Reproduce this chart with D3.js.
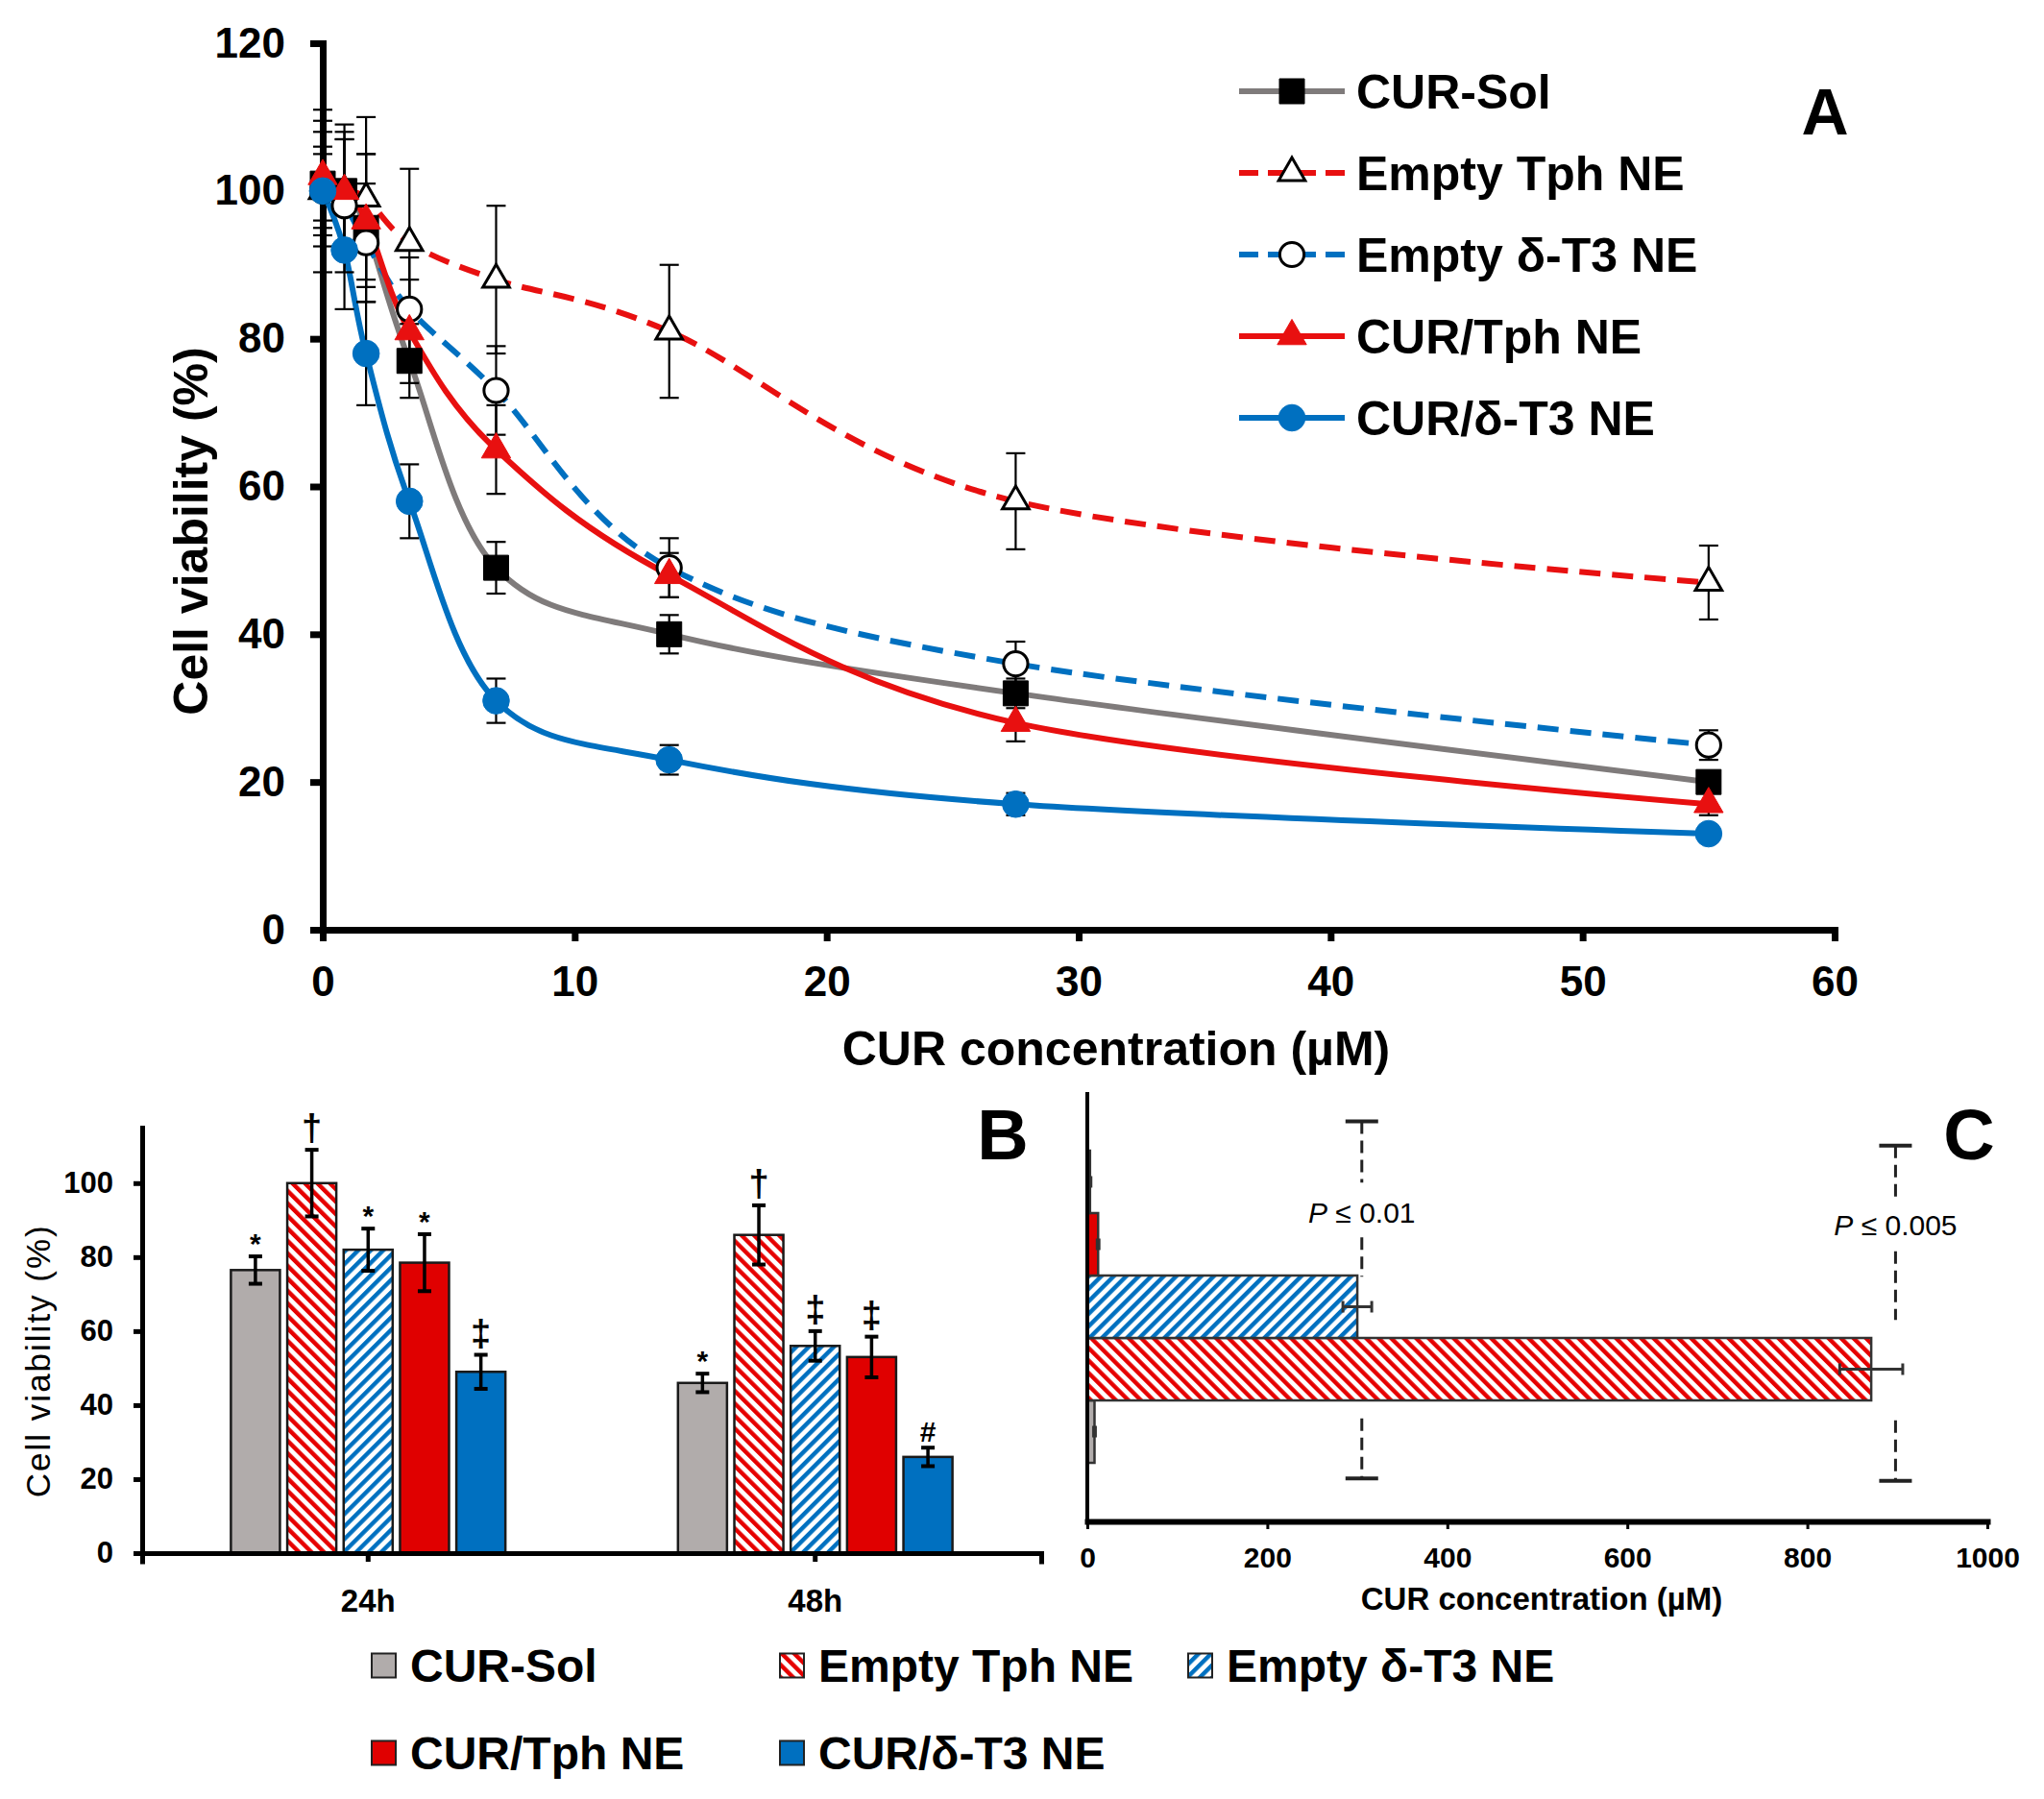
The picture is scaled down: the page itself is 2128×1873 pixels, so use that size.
<!DOCTYPE html>
<html>
<head>
<meta charset="utf-8">
<script src="https://cdn.jsdelivr.net/npm/d3@7"></script>
<style>
  body { margin: 0; background: #fff; }
  text { font-family: "Liberation Sans", Arial, sans-serif; }
</style>
</head>
<body>
<div id="chart"></div>
<script>
const width = 2128;
const height = 1873;

// ---------- data ----------
const seriesNames = ["CUR-Sol", "Empty Tph NE", "Empty δ-T3 NE", "CUR/Tph NE", "CUR/δ-T3 NE"];

// panel A: viability vs CUR concentration (µM)
const concentrations = [0, 0.86, 1.72, 3.44, 6.88, 13.75, 27.5, 55];
const viabCurSol   = [101, 100, 95, 77, 49, 40, 32, 20];
const errCurSol    = [8.5, 7, 10, 5, 3.5, 2.6, 2, 1];
const viabEmptyTph = [100, 100, 99, 93, 88, 81, 58, 47];
const errEmptyTph  = [11, 9, 11, 10, 10, 9, 6.5, 5];
const viabEmptyT3  = [100, 98, 93, 84, 73, 49, 36, 25];
const errEmptyT3   = [6, 9, 8, 7, 6, 4, 3, 2];
const viabCurTph   = [102, 100, 96, 81, 65, 48, 28, 17];
const errCurTph    = [6, 8, 9, 7, 6, 3, 2.5, 1.5];
const viabCurT3    = [100, 92, 78, 58, 31, 23, 17, 13];
const errCurT3     = [5, 8, 7, 5, 3, 2, 1.5, 1];
const xTicksA = [0, 10, 20, 30, 40, 50, 60];
const yTicksA = [0, 20, 40, 60, 80, 100, 120];

// panel B: viability at 24h / 48h
const timePoints = ["24h", "48h"];
const viab24h = [76.5, 100, 82, 78.5, 49];
const err24h  = [3.7, 9, 5.7, 7.7, 4.6];
const sig24h  = ["*", "†", "*", "*", "‡"];
const viab48h = [46, 86, 56, 53, 26];
const err48h  = [2.5, 8, 4, 5.5, 2.5];
const sig48h  = ["*", "†", "‡", "‡", "#"];
const yTicksB = [0, 20, 40, 60, 80, 100];

// panel C: IC50 (µM)
const ic50    = [8, 871, 300, 12, 3];
const ic50Err = [1, 35, 16, 1, 1];
const xTicksC = [0, 200, 400, 600, 800, 1000];
const pBracketAt = [305, 898];
const pLabels = ["0.01", "0.005"];

// ---------- styles ----------
const red = "#e81010", blue = "#0070c0", gray = "#7f7b7b";
const lineStyle = {
  "CUR-Sol":       { color: gray, dash: null,    sym: d3.symbolSquare,   size: 676, fill: "#000", stroke: "#000" },
  "Empty Tph NE":  { color: red,  dash: "22,12", sym: d3.symbolTriangle, size: 330, fill: "#fff", stroke: "#000" },
  "Empty δ-T3 NE": { color: blue, dash: "22,12", sym: d3.symbolCircle,   size: 500, fill: "#fff", stroke: "#000" },
  "CUR/Tph NE":    { color: red,  dash: null,    sym: d3.symbolTriangle, size: 400, fill: red,    stroke: red },
  "CUR/δ-T3 NE":   { color: blue, dash: null,    sym: d3.symbolCircle,   size: 600, fill: blue,   stroke: blue }
};
const barFill = {
  "CUR-Sol": "#b1acab",
  "Empty Tph NE": "url(#hatchRed)",
  "Empty δ-T3 NE": "url(#hatchBlue)",
  "CUR/Tph NE": "#e00000",
  "CUR/δ-T3 NE": "#0070c0"
};

const svg = d3.select("#chart").append("svg")
    .attr("width", width)
    .attr("height", height)
    .style("background", "#fff");

const defs = svg.append("defs");
function hatch(id, color, angle) {
  const p = defs.append("pattern")
      .attr("id", id)
      .attr("patternUnits", "userSpaceOnUse")
      .attr("width", 9.2).attr("height", 9.2)
      .attr("patternTransform", `rotate(${angle})`);
  p.append("rect").attr("width", 9.2).attr("height", 9.2).attr("fill", "#fff");
  p.append("rect").attr("width", 4.4).attr("height", 9.2).attr("fill", color);
}
hatch("hatchRed", "#e60000", -45);
hatch("hatchBlue", "#0070c0", 45);

function styleAxis(g, size, weight, stroke) {
  g.attr("font-family", null).attr("font-size", null);
  g.select(".domain").attr("stroke", "#000").attr("stroke-width", stroke).attr("stroke-linecap", "square");
  g.selectAll(".tick line").attr("stroke", "#000").attr("stroke-width", stroke);
  g.selectAll(".tick text").attr("fill", "#000").style("font-size", size + "px").style("font-weight", weight);
}

// ================= PANEL A =================
const xA = d3.scaleLinear().domain([0, 60]).range([336, 1910]);
const yA = d3.scaleLinear().domain([0, 120]).range([968, 45]);

svg.append("g")
    .attr("transform", `translate(0,${yA(0)})`)
    .call(d3.axisBottom(xA).tickValues(xTicksA).tickSize(12).tickSizeOuter(0).tickPadding(26))
    .call(g => styleAxis(g, 44, "bold", 7));
svg.append("g")
    .attr("transform", `translate(${xA(0)},0)`)
    .call(d3.axisLeft(yA).tickValues(yTicksA).tickSize(13).tickSizeOuter(0).tickPadding(26))
    .call(g => styleAxis(g, 44, "bold", 7));

svg.append("text")
    .attr("x", 1162).attr("y", 1109)
    .attr("text-anchor", "middle")
    .style("font-size", "50px").style("font-weight", "bold")
    .text("CUR concentration (µM)");
svg.append("text")
    .attr("transform", "translate(216,553) rotate(-90)")
    .attr("text-anchor", "middle")
    .style("font-size", "50px").style("font-weight", "bold")
    .text("Cell viability (%)");
svg.append("text")
    .attr("x", 1900).attr("y", 140)
    .attr("text-anchor", "middle")
    .style("font-size", "68px").style("font-weight", "bold")
    .text("A");

const seriesA = [
  { name: "CUR-Sol", v: viabCurSol, e: errCurSol },
  { name: "Empty Tph NE", v: viabEmptyTph, e: errEmptyTph },
  { name: "Empty δ-T3 NE", v: viabEmptyT3, e: errEmptyT3 },
  { name: "CUR/Tph NE", v: viabCurTph, e: errCurTph },
  { name: "CUR/δ-T3 NE", v: viabCurT3, e: errCurT3 }
].map(s => ({ ...s, pts: concentrations.map((c, i) => ({ x: c, v: s.v[i], e: s.e[i] })) }));

const line = d3.line()
    .x(d => xA(d.x))
    .y(d => yA(d.v))
    .curve(d3.curveCardinal.tension(0));

svg.append("g").selectAll("path")
  .data(seriesA)
  .join("path")
    .attr("d", d => line(d.pts))
    .attr("fill", "none")
    .attr("stroke", d => lineStyle[d.name].color)
    .attr("stroke-width", 6)
    .attr("stroke-dasharray", d => lineStyle[d.name].dash);

// error bars
const errA = svg.append("g").attr("stroke", "#000").attr("stroke-width", 2.2);
seriesA.forEach(s => {
  s.pts.forEach(p => {
    const cx = xA(p.x), y1 = yA(p.v + p.e), y2 = yA(p.v - p.e);
    errA.append("line").attr("x1", cx).attr("x2", cx).attr("y1", y1).attr("y2", y2);
    errA.append("line").attr("x1", cx - 10).attr("x2", cx + 10).attr("y1", y1).attr("y2", y1);
    errA.append("line").attr("x1", cx - 10).attr("x2", cx + 10).attr("y1", y2).attr("y2", y2);
  });
});

// markers
seriesA.forEach(s => {
  const st = lineStyle[s.name];
  svg.append("g").selectAll("path")
    .data(s.pts)
    .join("path")
      .attr("transform", d => `translate(${xA(d.x)},${yA(d.v)})`)
      .attr("d", d3.symbol().type(st.sym).size(st.size))
      .attr("fill", st.fill)
      .attr("stroke", st.stroke)
      .attr("stroke-width", st.fill === "#fff" ? 3 : 1);
});

// legend A
const legA = svg.append("g");
seriesA.forEach((s, i) => {
  const st = lineStyle[s.name];
  const cy = 95 + i * 85;
  legA.append("line")
      .attr("x1", 1290).attr("x2", 1400).attr("y1", cy).attr("y2", cy)
      .attr("stroke", st.color).attr("stroke-width", 6)
      .attr("stroke-dasharray", st.dash ? "20,10" : null);
  legA.append("path")
      .attr("transform", `translate(1345,${cy})`)
      .attr("d", d3.symbol().type(st.sym).size(st.size))
      .attr("fill", st.fill).attr("stroke", st.stroke)
      .attr("stroke-width", st.fill === "#fff" ? 3 : 1);
  legA.append("text")
      .attr("x", 1412).attr("y", cy + 18)
      .style("font-size", "50px").style("font-weight", "bold")
      .text(s.name);
});

// ================= PANEL B =================
const x0 = d3.scaleBand().domain(timePoints).range([148, 1084]).paddingInner(0.386).paddingOuter(0.1985);
const x1 = d3.scaleBand().domain(seriesNames).range([0, x0.bandwidth()]).paddingInner(0.13);
const yB = d3.scaleLinear().domain([0, 115]).range([1617, 1174]);

const groupsB = [
  { t: "24h", v: viab24h, e: err24h, s: sig24h },
  { t: "48h", v: viab48h, e: err48h, s: sig48h }
];

const sigOffset = { "*": 3, "†": 10, "‡": 10, "#": 6 };
const sigSize = { "*": 30, "†": 38, "‡": 38, "#": 30 };
groupsB.forEach(g => {
  const gg = svg.append("g").attr("transform", `translate(${x0(g.t)},0)`);
  const rows = seriesNames.map((n, i) => ({ n, v: g.v[i], e: g.e[i], s: g.s[i] }));
  gg.selectAll("rect")
    .data(rows)
    .join("rect")
      .attr("x", d => x1(d.n))
      .attr("y", d => yB(d.v))
      .attr("width", x1.bandwidth())
      .attr("height", d => yB(0) - yB(d.v))
      .attr("fill", d => barFill[d.n])
      .attr("stroke", "#1a1a1a")
      .attr("stroke-width", 2.5);
  rows.forEach(d => {
    const cx = x1(d.n) + x1.bandwidth() / 2;
    const y1 = yB(d.v + d.e), y2 = yB(d.v - d.e);
    gg.append("line").attr("x1", cx).attr("x2", cx).attr("y1", y1).attr("y2", y2)
        .attr("stroke", "#000").attr("stroke-width", 3.5);
    [y1, y2].forEach(y => gg.append("line")
        .attr("x1", cx - 7).attr("x2", cx + 7).attr("y1", y).attr("y2", y)
        .attr("stroke", "#000").attr("stroke-width", 4));
    gg.append("text")
        .attr("x", cx).attr("y", y1 - sigOffset[d.s])
        .attr("text-anchor", "middle")
        .style("font-size", sigSize[d.s] + "px").style("font-weight", "bold")
        .text(d.s);
  });
});

svg.append("g")
    .attr("transform", `translate(0,${yB(0)})`)
    .call(d3.axisBottom(x0).tickSize(9).tickSizeOuter(9).tickPadding(29))
    .call(g => styleAxis(g, 33, "bold", 5));
svg.append("g")
    .attr("transform", "translate(148,0)")
    .call(d3.axisLeft(yB).tickValues(yTicksB).tickSize(9).tickSizeOuter(0).tickPadding(21))
    .call(g => styleAxis(g, 31, "bold", 5));

svg.append("text")
    .attr("transform", `translate(52,${yB(52)}) rotate(-90)`)
    .attr("text-anchor", "middle")
    .style("font-size", "35px").style("letter-spacing", "2px")
    .text("Cell viability (%)");
svg.append("text")
    .attr("x", 1044).attr("y", 1207)
    .attr("text-anchor", "middle")
    .style("font-size", "74px").style("font-weight", "bold")
    .text("B");

// ================= PANEL C =================
const xC = d3.scaleLinear().domain([0, 1000]).range([1132, 2069]);
const yC = d3.scaleBand().domain(seriesNames).range([1584, 1137]).paddingInner(0).paddingOuter(0.938);
const bandIdx = d3.scaleLinear()
    .domain([0, seriesNames.length])
    .range([yC(seriesNames[0]) + yC.bandwidth(), yC(seriesNames[seriesNames.length - 1])]);

const rowsC = seriesNames.map((n, i) => ({ n, v: ic50[i], e: ic50Err[i] }));
svg.append("g").selectAll("rect")
  .data(rowsC)
  .join("rect")
    .attr("x", xC(0))
    .attr("y", d => yC(d.n))
    .attr("width", d => xC(d.v) - xC(0))
    .attr("height", yC.bandwidth())
    .attr("fill", d => barFill[d.n])
    .attr("stroke", "#333")
    .attr("stroke-width", 2.5);

const errC = svg.append("g").attr("stroke", "#333").attr("stroke-width", 3);
rowsC.forEach(d => {
  const cy = yC(d.n) + yC.bandwidth() / 2;
  const xa = xC(d.v - d.e), xb = xC(d.v + d.e);
  errC.append("line").attr("x1", xa).attr("x2", xb).attr("y1", cy).attr("y2", cy);
  [xa, xb].forEach(x => errC.append("line").attr("x1", x).attr("x2", x).attr("y1", cy - 6).attr("y2", cy + 6));
});

// significance brackets (dashed, broken round labels and bars)
const bracketSegs = [
  { top: 5.47, bot: -0.25, text: 4.02, segs: [[5.47, 4.49], [3.61, 2.98], [0.71, -0.25]] },
  { top: 5.08, bot: -0.29, text: 3.82, segs: [[5.08, 4.24], [3.39, 2.29], [0.68, -0.29]] }
];
bracketSegs.forEach((b, i) => {
  const bx = xC(pBracketAt[i]);
  const g = svg.append("g").attr("stroke", "#222");
  b.segs.forEach(s => g.append("line")
      .attr("x1", bx).attr("x2", bx).attr("y1", bandIdx(s[0])).attr("y2", bandIdx(s[1]))
      .attr("stroke-width", 3).attr("stroke-dasharray", "13,7"));
  [b.top, b.bot].forEach(t => g.append("line")
      .attr("x1", bx - 17).attr("x2", bx + 17).attr("y1", bandIdx(t)).attr("y2", bandIdx(t))
      .attr("stroke-width", 4));
  const tx = svg.append("text")
      .attr("x", bx).attr("y", bandIdx(b.text) + 11)
      .attr("text-anchor", "middle")
      .style("font-size", "30px");
  tx.append("tspan").style("font-style", "italic").text("P");
  tx.append("tspan").text(" ≤ " + pLabels[i]);
});

svg.append("g")
    .attr("transform", `translate(0,${yC.range()[0]})`)
    .call(d3.axisBottom(xC).tickValues(xTicksC).tickFormat(d3.format("d")).tickSize(8).tickSizeOuter(0).tickPadding(19))
    .call(g => styleAxis(g, 30, "bold", 6))
    .call(g => g.selectAll(".tick line").attr("stroke-width", 3));
svg.append("line")
    .attr("x1", xC(0)).attr("x2", xC(0))
    .attr("y1", yC.range()[0]).attr("y2", yC.range()[1])
    .attr("stroke", "#000").attr("stroke-width", 4);

svg.append("text")
    .attr("x", 1605).attr("y", 1676)
    .attr("text-anchor", "middle")
    .style("font-size", "33px").style("font-weight", "bold")
    .text("CUR concentration (µM)");
svg.append("text")
    .attr("x", 2050).attr("y", 1207)
    .attr("text-anchor", "middle")
    .style("font-size", "74px").style("font-weight", "bold")
    .text("C");

// ================= bottom legend =================
const legCols = [387, 812, 1237];
const legRows = [1734, 1825];
seriesNames.forEach((n, i) => {
  const col = i < 3 ? i : i - 3;
  const row = i < 3 ? 0 : 1;
  const lx = legCols[col], cy = legRows[row];
  svg.append("rect")
      .attr("x", lx).attr("y", cy - 12.5)
      .attr("width", 25).attr("height", 25)
      .attr("fill", barFill[n])
      .attr("stroke", "#222").attr("stroke-width", 2);
  svg.append("text")
      .attr("x", lx + 40).attr("y", cy + 17)
      .style("font-size", "48px").style("font-weight", "bold")
      .text(n);
});
</script>
</body>
</html>
